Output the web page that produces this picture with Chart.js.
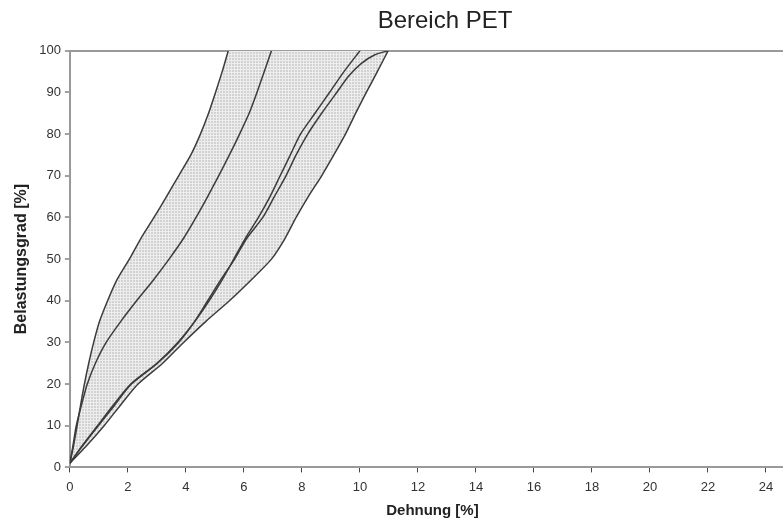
<!DOCTYPE html>
<html>
<head>
<meta charset="utf-8">
<script src="https://cdn.jsdelivr.net/npm/chart.js@4.4.1/dist/chart.umd.min.js"></script>
<style>
  html, body { margin: 0; padding: 0; background: #fff; overflow: hidden; width: 783px; height: 522px; }
  #wrap { width: 890px; height: 522px; }
</style>
</head>
<body>
<div id="wrap"><canvas id="chart"></canvas></div>
<script>
// Belastungsgrad-Stufen (y) und Dehnung (x) je Kurve
const stufen = [1, 5, 10, 15, 20, 25, 30, 35, 40, 45, 50, 55, 60, 65, 70, 75, 80, 85, 90, 95, 100];

const kurveA = [0, 0.12, 0.25, 0.37, 0.5, 0.65, 0.82, 1.02, 1.3, 1.62, 2.05, 2.45, 2.9, 3.33, 3.75, 4.17, 4.5, 4.78, 5.02, 5.25, 5.46];
const kurveB = [0, 0.1, 0.22, 0.4, 0.6, 0.88, 1.25, 1.75, 2.3, 2.88, 3.42, 3.92, 4.35, 4.75, 5.13, 5.5, 5.85, 6.18, 6.45, 6.7, 6.95];
const kurveC = [0, 0.4, 0.95, 1.5, 2.1, 3.0, 3.72, 4.3, 4.8, 5.25, 5.65, 6.05, 6.5, 6.9, 7.25, 7.6, 7.95, 8.45, 8.95, 9.45, 10.0];
const kurveE = [0, 0.55, 1.18, 1.75, 2.35, 3.2, 3.92, 4.68, 5.5, 6.25, 6.95, 7.42, 7.8, 8.22, 8.68, 9.1, 9.5, 9.85, 10.22, 10.6, 10.97];

const stufenD = [1, 5, 10, 15, 20, 25, 30, 35, 40, 45, 50, 55, 60, 65, 70, 75, 80, 85, 90, 94, 97, 99, 100];
const kurveD = [0, 0.42, 0.98, 1.55, 2.12, 3.02, 3.75, 4.3, 4.75, 5.2, 5.68, 6.1, 6.65, 7.05, 7.45, 7.8, 8.2, 8.68, 9.2, 9.62, 10.05, 10.5, 10.95];

const xTicks = [0, 2, 4, 6, 8, 10, 12, 14, 16, 18, 20, 22, 24];

function punkte(xs, ys) {
    return xs.map((x, i) => ({x: x, y: ys[i]}));
}

// Bereich: linke Grenzkurve hoch, rechte Grenzkurve zurück
const bereich = punkte(kurveA, stufen).concat(punkte(kurveE, stufen).reverse());

// feines Raster als Füllung
const tile = document.createElement('canvas');
tile.width = 3;
tile.height = 3;
const tctx = tile.getContext('2d');
tctx.fillStyle = '#d2d2d2';
tctx.fillRect(0, 0, 3, 3);
tctx.fillStyle = '#ededed';
tctx.fillRect(0, 0, 3, 1);
tctx.fillRect(0, 0, 1, 3);
const raster = tctx.createPattern(tile, 'repeat');

const linie = {
    showLine: true,
    fill: false,
    borderColor: '#3c3c3c',
    borderWidth: 1.5,
    pointRadius: 0,
    tension: 0.25,
    order: 0
};

const fontName = 'Liberation Sans, Arial, sans-serif';

new Chart(document.getElementById('chart'), {
    type: 'scatter',
    data: {
        datasets: [
            {label: 'Bereich', data: bereich, showLine: true, fill: 'shape', backgroundColor: raster,
             borderWidth: 0, pointRadius: 0, tension: 0, order: 1},
            Object.assign({label: 'A', data: punkte(kurveA, stufen)}, linie),
            Object.assign({label: 'B', data: punkte(kurveB, stufen)}, linie),
            Object.assign({label: 'C', data: punkte(kurveC, stufen)}, linie),
            Object.assign({label: 'D', data: punkte(kurveD, stufenD)}, linie),
            Object.assign({label: 'E', data: punkte(kurveE, stufen)}, linie)
        ]
    },
    options: {
        responsive: true,
        maintainAspectRatio: false,
        animation: false,
        layout: {padding: 0},
        plugins: {
            legend: {display: false},
            tooltip: {enabled: false},
            title: {
                display: true,
                text: 'Bereich PET',
                color: '#222',
                font: {family: fontName, size: 24, weight: 'normal'},
                padding: {top: 7, bottom: 15}
            }
        },
        scales: {
            x: {
                type: 'linear',
                min: 0,
                max: 25,
                afterBuildTicks: (axis) => { axis.ticks = xTicks.map(v => ({value: v})); },
                ticks: {color: '#333', font: {family: fontName, size: 13}, padding: 7},
                grid: {drawOnChartArea: false, tickLength: 5, tickColor: '#444', tickWidth: 1},
                border: {display: true, color: '#999', width: 2},
                title: {
                    display: true,
                    text: 'Dehnung [%]',
                    color: '#222',
                    font: {family: fontName, size: 15, weight: 'bold'},
                    padding: {top: 0, bottom: 2}
                }
            },
            y: {
                min: 0,
                max: 100,
                ticks: {stepSize: 10, color: '#333', font: {family: fontName, size: 13}, padding: 4},
                grid: {
                    color: (c) => c.tick && c.tick.value === 100 ? '#999' : 'transparent',
                    lineWidth: 2,
                    tickLength: 5,
                    tickColor: '#444',
                    tickWidth: 1
                },
                border: {display: true, color: '#999', width: 2},
                title: {
                    display: true,
                    text: 'Belastungsgrad [%]',
                    color: '#222',
                    font: {family: fontName, size: 16, weight: 'bold'},
                    padding: {top: 12, bottom: 4}
                }
            },
            // leerer Rand rechts, damit der Diagrammtitel über der ganzen Fläche zentriert bleibt
            rand: {
                position: 'right',
                min: 0,
                max: 100,
                ticks: {display: false},
                grid: {display: false},
                border: {display: false},
                afterFit: (axis) => { axis.width = 95; }
            }
        }
    }
});
</script>
</body>
</html>
